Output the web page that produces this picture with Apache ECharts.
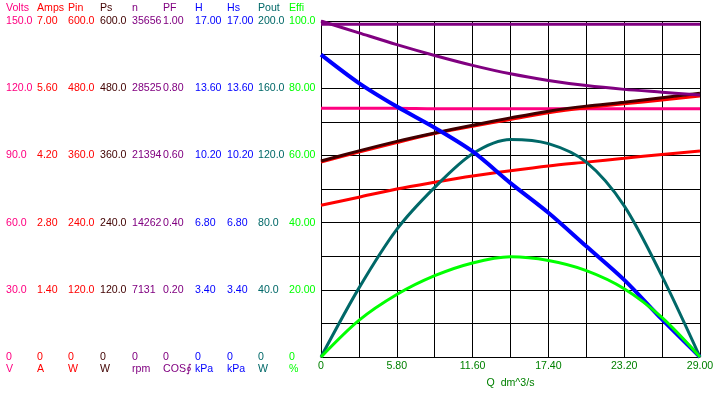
<!DOCTYPE html>
<html><head><meta charset="utf-8">
<script src="https://cdn.jsdelivr.net/npm/echarts@6/dist/echarts.min.js"></script>
<style>html,body{margin:0;padding:0;background:#fff}#c{width:728px;height:394px}</style>
</head><body><div id="c"></div>
<script>
// ---- data ----
const qValues = [0, 2.9, 5.8, 8.7, 11.6, 14.5, 17.4, 20.3, 23.2, 26.1, 29];
const xTickLabels = ['0', '5.80', '11.60', '17.40', '23.20', '29.00'];
const volts = [111.0, 111.0, 111.0, 110.8, 110.8, 110.8, 110.8, 110.8, 110.8, 110.8, 110.8];
const amps = [3.16, 3.33, 3.50, 3.64, 3.77, 3.88, 3.98, 4.06, 4.14, 4.22, 4.29];
const pin = [348, 366, 383, 399, 412, 424, 436, 445, 452, 459, 466];
const ps = [350, 368, 385, 400, 414, 427, 439, 448, 455, 463, 471];
const speed = [35656, 34400, 33150, 32000, 30950, 30050, 29350, 28800, 28400, 28100, 27800];
const pf = [0.99, 0.99, 0.99, 0.99, 0.99, 0.99, 0.99, 0.99, 0.99, 0.99, 0.99];
const head = [15.3, 13.86, 12.67, 11.6, 10.4, 8.8, 7.3, 5.6, 3.9, 1.9, 0];
const pout = [0, 41, 76, 101, 121, 129.5, 127, 116, 90, 48, 0];
const effi = [0, 10.9, 18.6, 24.2, 28.0, 29.8, 28.7, 25.7, 20.3, 11.7, 0];

const axisTitles = ['Volts', 'Amps', 'Pin', 'Ps', 'n', 'PF', 'H', 'Hs', 'Pout', 'Effi'];
const axisUnits = ['V', 'A', 'W', 'W', 'rpm', 'COS\u222E', 'kPa', 'kPa', 'W', '%'];
const axisMax = [150, 7, 600, 600, 35656, 1, 17, 17, 200, 100];
const tickLabels = [
  ['0', '30.0', '60.0', '90.0', '120.0', '150.0'],
  ['0', '1.40', '2.80', '4.20', '5.60', '7.00'],
  ['0', '120.0', '240.0', '360.0', '480.0', '600.0'],
  ['0', '120.0', '240.0', '360.0', '480.0', '600.0'],
  ['0', '7131', '14262', '21394', '28525', '35656'],
  ['0', '0.20', '0.40', '0.60', '0.80', '1.00'],
  ['0', '3.40', '6.80', '10.20', '13.60', '17.00'],
  ['0', '3.40', '6.80', '10.20', '13.60', '17.00'],
  ['0', '40.0', '80.0', '120.0', '160.0', '200.0'],
  ['0', '20.00', '40.00', '60.00', '80.00', '100.0']
];
const axisColors = ['#FF0080', '#FF0000', '#FF0000', '#400000', '#800080', '#800080', '#0000FF', '#0000FF', '#006868', '#00FF00'];
const columnX = [6, 37, 68, 100, 132, 163, 195, 227, 258, 289];

// ---- chart ----
const FONT = 'Liberation Sans';
const FS = 10.6;
const plotLeft = 321;
const yAxes = [{
  type: 'value', position: 'left', min: 0, max: 100, interval: 20,
  axisLine: { show: true, lineStyle: { color: '#000', width: 1 } },
  axisTick: { show: false }, axisLabel: { show: false },
  splitLine: { show: true, lineStyle: { color: '#000', width: 1 } },
  minorTick: { show: false, splitNumber: 2 },
  minorSplitLine: { show: true, lineStyle: { color: '#000', width: 1 } }
}];
axisTitles.forEach((t, i) => {
  const labels = tickLabels[i];
  const step = axisMax[i] / 5;
  yAxes.push({
    type: 'value', position: 'left', offset: plotLeft - columnX[i],
    min: 0, max: axisMax[i], interval: step,
    axisLine: { show: false }, axisTick: { show: false }, splitLine: { show: false },
    axisLabel: {
      margin: 0, align: 'left', color: axisColors[i], fontSize: FS, fontFamily: FONT,
      formatter: v => labels[Math.round(v / step)] ?? ''
    },
    name: t, nameLocation: 'end', nameGap: 13,
    nameTextStyle: { align: 'left', verticalAlign: 'middle', color: axisColors[i], fontSize: FS, fontFamily: FONT }
  });
});
axisUnits.forEach((u, i) => {
  yAxes.push({
    type: 'value', position: 'left', offset: plotLeft - columnX[i],
    min: 0, max: 1,
    axisLine: { show: false }, axisTick: { show: false }, splitLine: { show: false },
    axisLabel: { show: false },
    name: u, nameLocation: 'start', nameGap: 12,
    nameTextStyle: { align: 'left', verticalAlign: 'middle', color: axisColors[i], fontSize: FS, fontFamily: FONT }
  });
});

function mk(name, arr, axisIdx, color, width, z) {
  return {
    name, type: 'line', yAxisIndex: axisIdx, smooth: 0.3, symbol: 'none', z,
    lineStyle: { color, width }, data: qValues.map((q, k) => [q, arr[k]])
  };
}

const series = [
  mk('Volts', volts, 1, '#FF0080', 3, 2),
  mk('Amps', amps, 2, '#FF0000', 3, 3),
  mk('Pin', pin, 3, '#FF0000', 3, 3),
  mk('Ps', ps, 4, '#400000', 3, 4),
  mk('Pout', pout, 9, '#006868', 3, 5),
  mk('H', head, 7, '#0000FF', 4, 6),
  mk('Effi', effi, 10, '#00FF00', 3, 7),
  mk('n', speed, 5, '#800080', 3, 8),
  mk('PF', pf, 6, '#800080', 3, 8)
];

const chart = echarts.init(document.getElementById('c'), null, { renderer: 'canvas' });
chart.setOption({
  backgroundColor: '#fff',
  animation: false,
  grid: { left: plotLeft, right: 28, top: 21, bottom: 36, containLabel: false },
  xAxis: {
    type: 'value', min: 0, max: 29, interval: 5.8,
    axisLine: { show: true, lineStyle: { color: '#000', width: 1 } },
    axisTick: { show: false },
    axisLabel: {
      margin: 4, color: '#008000', fontSize: FS, fontFamily: FONT,
      formatter: v => xTickLabels[Math.round(v / 5.8)] ?? ''
    },
    splitLine: { show: true, lineStyle: { color: '#000', width: 1 } },
    minorTick: { show: false, splitNumber: 2 },
    minorSplitLine: { show: true, lineStyle: { color: '#000', width: 1 } },
    name: 'Q  dm^3/s', nameLocation: 'middle', nameGap: 21,
    nameTextStyle: { color: '#008000', fontSize: FS, fontFamily: FONT }
  },
  yAxis: yAxes,
  series
});
</script></body></html>
